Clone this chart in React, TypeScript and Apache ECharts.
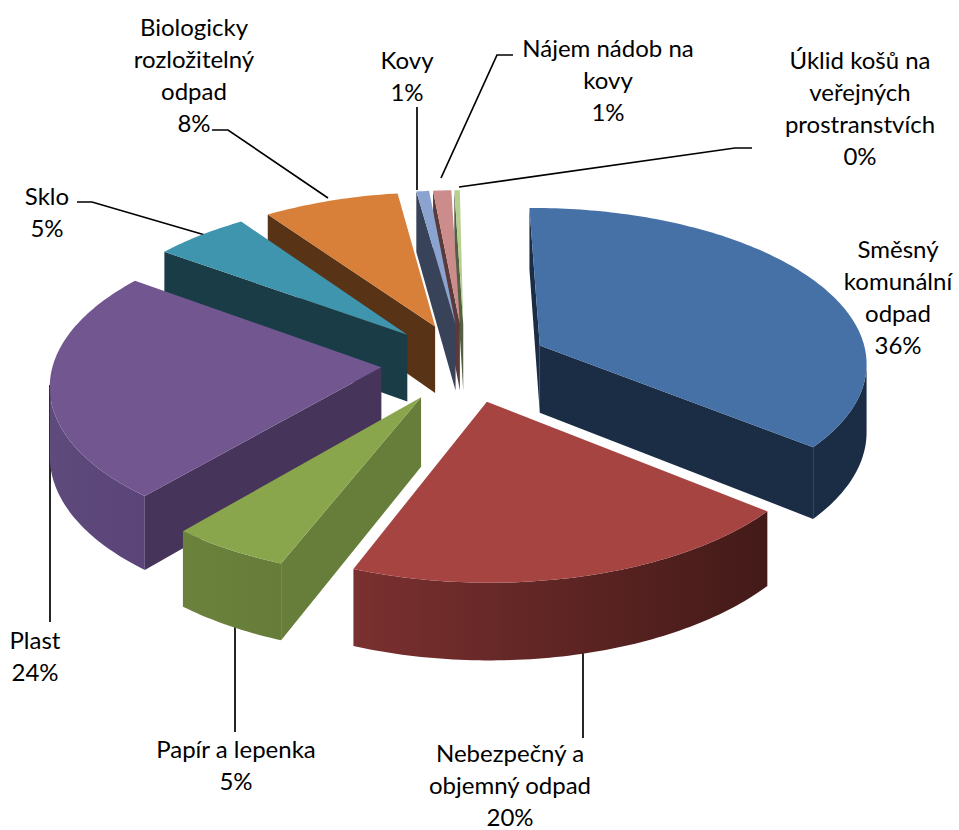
import React, { useEffect, useRef } from "react";
import * as echarts from "echarts";

const names = ["Směsný\nkomunální\nodpad", "Nebezpečný a\nobjemný odpad", "Papír a lepenka", "Plast", "Sklo", "Biologicky\nrozložitelný\nodpad", "Kovy", "Nájem nádob na\nkovy", "Úklid košů na\nveřejných\nprostranstvích"];
const values = [36.1, 20.1, 5.2, 23.9, 5.3, 7.5, 0.7, 1.0, 0.3];
const percentLabels = ["36%", "20%", "5%", "24%", "5%", "8%", "1%", "1%", "0%"];
const topColors = ["#4671a7", "#a64442", "#8aa64d", "#725690", "#3f95ae", "#d88039", "#8aa3d0", "#cd8c8c", "#b7cf8f"];
const wallColors = ["#1b2d45", "#431a18", "#677d3a", "#46345a", "#1a3c47", "#593315", "#38435a", "#5a3a3a", "#555f44"];
const outerFrom = ["#1b2d45", "#7a302f", "#6b823d", "#5f4a7c", "#1a3c47", "#593315", "#38435a", "#5a3a3a", "#555f44"];
const outerTo = ["#1b2d45", "#431a18", "#667c38", "#5a4478", "#1a3c47", "#593315", "#38435a", "#5a3a3a", "#555f44"];
const labelCenters = [[898, 297], [510, 785], [236, 765], [35, 656], [47, 212], [194, 75], [407, 76], [608, 80], [860, 108]];
const leaders = [
  null,
  [[583, 652], [583, 738]],
  [[235, 627], [235, 732]],
  [[50, 385], [50, 622]],
  [[77, 202], [92, 202], [205, 235]],
  [[212, 130], [228, 130], [328, 198]],
  [[417, 107], [417, 190]],
  [[513, 55], [497, 55], [441, 178]],
  [[752, 148], [735, 148], [459, 187]],
];

const CX = 465, CY = 362.5, RX = 328, RY = 154.5, K = 0.1, H = 68, EXPLODE = 0.256, START = -0.7;
const LINE_STEP = 31.7;
const total = values.reduce((a, b) => a + b, 0);

function project(u: number, v: number, z: number) {
  const p = 1 / (1 + K * v);
  return [CX + u * RX * p, CY - v * RY * p + z * H * p];
}

const spans = (() => {
  let a = START;
  return values.map((val) => {
    const s = a;
    a += (val / total) * 360;
    return [s, a];
  });
})();

const rad = (d: number) => (d * Math.PI) / 180;
const midV = (i: number) => Math.cos(rad((spans[i][0] + spans[i][1]) / 2));
const paintOrder = values.map((_, i) => i).sort((a, b) => midV(b) - midV(a));

function renderSlice(_params: any, api: any) {
  const i = api.value(0);
  const [a0, a1] = spans[i];
  const mid = rad((a0 + a1) / 2);
  const ox = Math.sin(mid) * EXPLODE, oy = Math.cos(mid) * EXPLODE;
  const at = (r: number, deg: number, z: number) =>
    project(ox + r * Math.sin(rad(deg)), oy + r * Math.cos(rad(deg)), z);
  const steps = Math.max(4, Math.ceil(a1 - a0));
  const arc: number[] = [];
  for (let s = 0; s <= steps; s++) arc.push(a0 + ((a1 - a0) * s) / steps);
  const M = at(0.6, (a0 + a1) / 2, 0);
  const visible = (A: number[], B: number[]) => {
    const side = B[0] - A[0];
    const inner = (B[0] - A[0]) * (M[1] - A[1]) - (B[1] - A[1]) * (M[0] - A[0]);
    return side * inner < 0;
  };
  const children: any[] = [];
  const poly = (points: number[][], fill: any) => ({
    type: "polygon",
    shape: { points },
    style: { fill, stroke: "none" },
    silent: true,
  });
  const apexT = at(0, 0, 0), apexB = at(0, 0, 1);
  [a0, a1].forEach((deg) => {
    const T = at(1, deg, 0), B = at(1, deg, 1);
    if (visible(apexT, T)) children.push(poly([apexT, T, B, apexB], wallColors[i]));
  });
  let run: number[] = [];
  const flush = () => {
    if (run.length > 1) {
      const tops = run.map((d) => at(1, d, 0));
      const bots = run.map((d) => at(1, d, 1)).reverse();
      const xs = tops.map((p) => p[0]);
      const fill = new echarts.graphic.LinearGradient(
        Math.min(...xs), 0, Math.max(...xs), 0,
        [{ offset: 0, color: outerFrom[i] }, { offset: 1, color: outerTo[i] }],
        true
      );
      children.push(poly([...tops, ...bots], fill));
    }
    run = [];
  };
  for (let s = 0; s < steps; s++) {
    const A = at(1, arc[s], 0), B = at(1, arc[s + 1], 0);
    if (visible(A, B)) {
      if (!run.length) run.push(arc[s]);
      run.push(arc[s + 1]);
    } else flush();
  }
  flush();
  children.push(poly([apexT, ...arc.map((d) => at(1, d, 0))], topColors[i]));
  return { type: "group", children };
}

const FONT = "Lato";

export default function App() {
  const ref = useRef<HTMLDivElement>(null);
  useEffect(() => {
    const chart = echarts.init(ref.current!, undefined, { renderer: "svg" });
    const graphics: any[] = [];
    leaders.forEach((pts) => {
      if (pts) graphics.push({ type: "polyline", shape: { points: pts }, style: { stroke: "#000", lineWidth: 1.7, fill: "none" }, z: 1 });
    });
    names.forEach((n, i) => {
      const lines = [...n.split("\n"), percentLabels[i]];
      lines.forEach((line, k) => {
        graphics.push({
          type: "text",
          x: labelCenters[i][0],
          y: labelCenters[i][1] + (k - (lines.length - 1) / 2) * LINE_STEP - 0.5,
          z: 6,
          style: {
            text: line,
            font: `24px ${FONT}`,
            fill: "#000",
            align: "center",
            verticalAlign: "middle",
          },
        });
      });
    });
    chart.setOption({
      animation: false,
      backgroundColor: "#fff",
      graphic: graphics,
      series: [
        {
          type: "custom",
          coordinateSystem: "none",
          renderItem: renderSlice,
          silent: true,
          z: 2,
          data: paintOrder.map((i) => [i, values[i]]),
        },
      ],
    });
    return () => chart.dispose();
  }, []);
  return <div ref={ref} style={{ position: "absolute", left: 0, top: 0, width: 959, height: 830 }} />;
}
